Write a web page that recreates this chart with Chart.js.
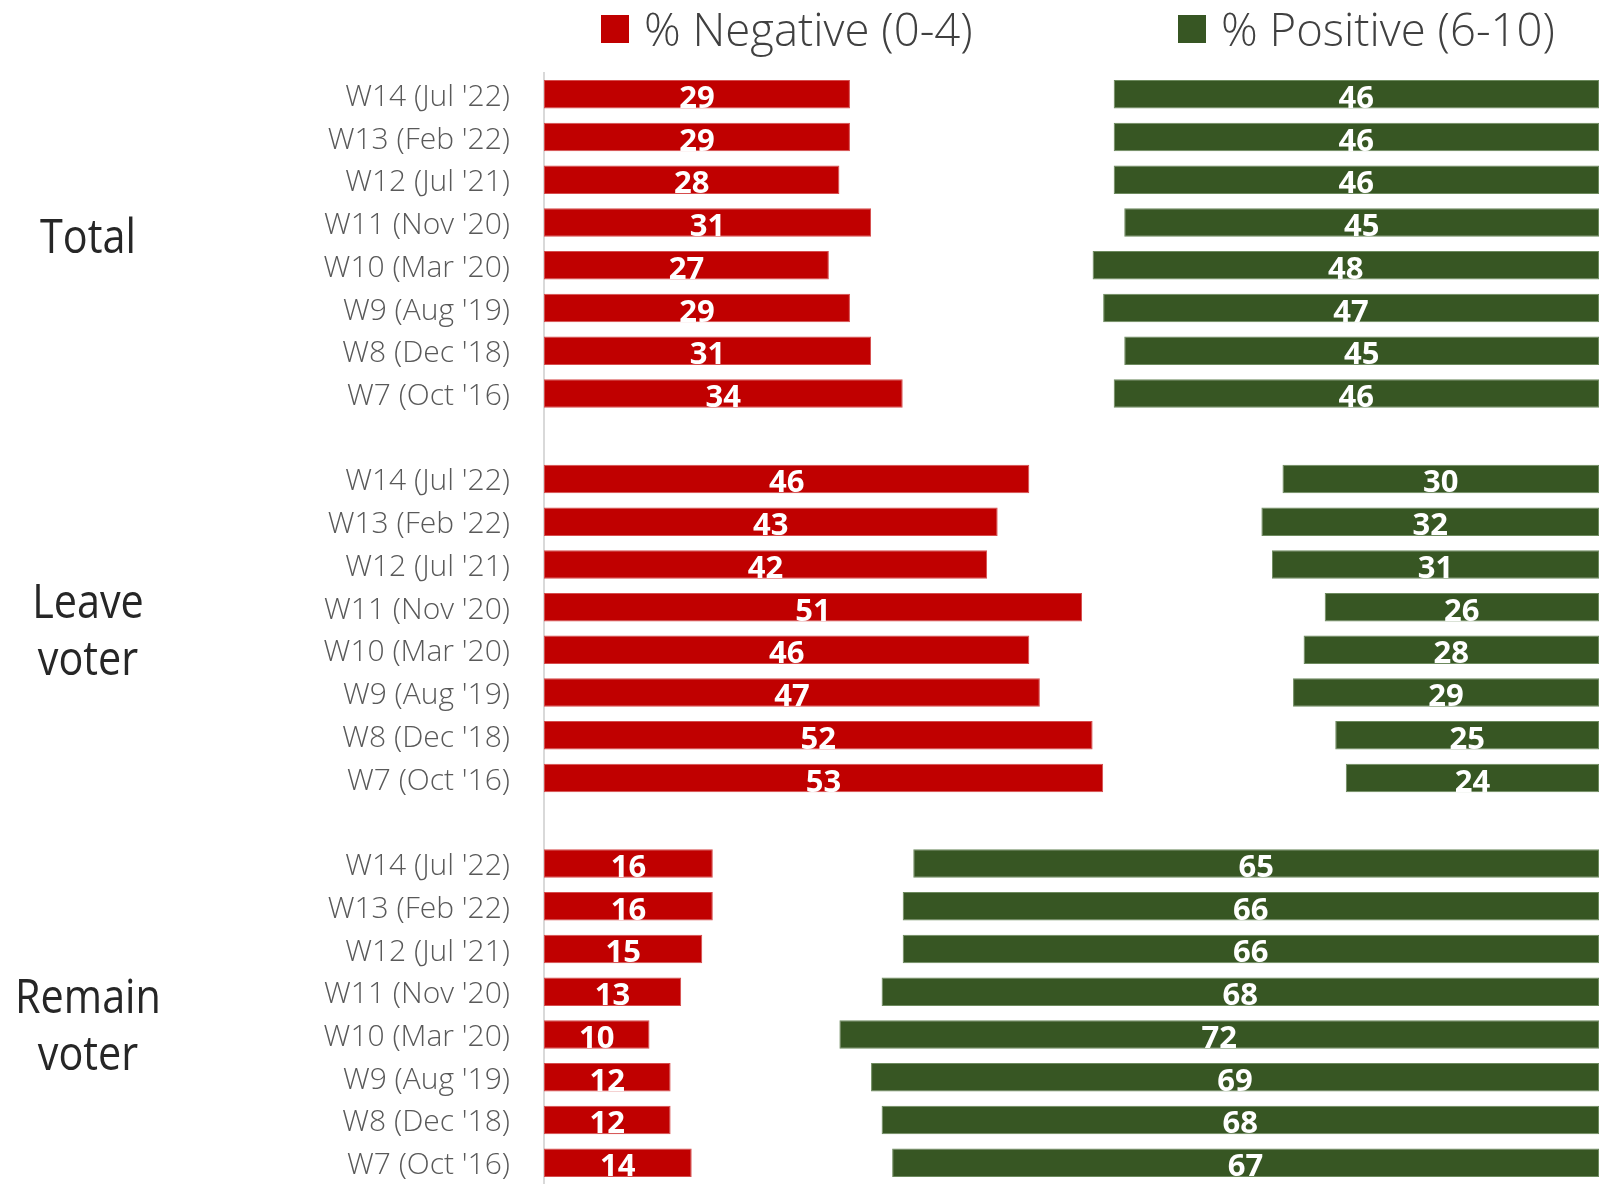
<!DOCTYPE html>
<html>
<head>
<meta charset="utf-8">
<script src="https://cdn.jsdelivr.net/npm/chart.js@4.4.0/dist/chart.umd.min.js"></script>
<style>
  html, body { margin: 0; padding: 0; background: #fff; }
  #wrap { position: relative; width: 1611px; height: 1184px; }
</style>
</head>
<body>
<div id="wrap"><canvas id="chart"></canvas></div>
<script>
// wave labels, top to bottom inside each group
const waves = ["W14 (Jul '22)", "W13 (Feb '22)", "W12 (Jul '21)", "W11 (Nov '20)",
               "W10 (Mar '20)", "W9 (Aug '19)", "W8 (Dec '18)", "W7 (Oct '16)"];
const groupNames = [["Total"], ["Leave", "voter"], ["Remain", "voter"]];

const totalNegative  = [29, 29, 28, 31, 27, 29, 31, 34];
const totalPositive  = [46, 46, 46, 45, 48, 47, 45, 46];
const leaveNegative  = [46, 43, 42, 51, 46, 47, 52, 53];
const leavePositive  = [30, 32, 31, 26, 28, 29, 25, 24];
const remainNegative = [16, 16, 15, 13, 10, 12, 12, 14];
const remainPositive = [65, 66, 66, 68, 72, 69, 68, 67];

const seriesNames = ["% Negative (0-4)", "% Positive (6-10)"];
const RED = "#C00000";
const GREEN = "#375623";

// one empty row between the groups
function withGaps(parts, gap) {
    const out = [];
    parts.forEach((p, i) => {
        if (i > 0) out.push(gap);
        out.push(...p);
    });
    return out;
}

const labels = withGaps([waves, waves, waves], "");
const negData = withGaps([totalNegative, leaveNegative, remainNegative], null);
const posData = withGaps([totalPositive, leavePositive, remainPositive], null);

const valueLabels = {
    id: "valueLabels",
    afterDatasetsDraw(chart) {
        const ctx = chart.ctx;
        ctx.save();
        ctx.font = "bold 31px 'Open Sans'";
        ctx.fillStyle = "#fff";
        ctx.textAlign = "center";
        ctx.textBaseline = "alphabetic";
        chart.data.datasets.forEach((ds, i) => {
            chart.getDatasetMeta(i).data.forEach((bar, j) => {
                const v = ds.data[j];
                if (v === null) return;
                const c = bar.getCenterPoint();
                ctx.fillText(String(v), c.x, c.y + 13.5);
            });
        });
        ctx.restore();
    }
};

const groupLabels = {
    id: "groupLabels",
    afterDraw(chart) {
        const ctx = chart.ctx;
        const y = chart.scales.y;
        const anchors = [3.72, 12.25, 21.5]; // row position of the first baseline
        ctx.save();
        ctx.font = "400 47px 'Open Sans'";
        ctx.fillStyle = "#262626";
        ctx.textAlign = "center";
        ctx.textBaseline = "alphabetic";
        groupNames.forEach((lines, g) => {
            const base = y.getPixelForValue(anchors[g]);
            lines.forEach((t, k) => {
                ctx.save();
                ctx.translate(88, base + k * 57);
                ctx.scale(0.88, 1);
                ctx.fillText(t, 0, 0);
                ctx.restore();
            });
        });
        ctx.restore();
    }
};

const topLegend = {
    id: "topLegend",
    afterDraw(chart) {
        const ctx = chart.ctx;
        const items = [{ x: 601, color: RED }, { x: 1178, color: GREEN }];
        ctx.save();
        ctx.font = "300 45.5px 'Open Sans'";
        ctx.textAlign = "left";
        ctx.textBaseline = "alphabetic";
        items.forEach((it, i) => {
            ctx.fillStyle = it.color;
            ctx.fillRect(it.x, 15, 28, 28);
            ctx.fillStyle = "#404040";
            ctx.fillText(seriesNames[i], it.x + 43, 46);
        });
        ctx.restore();
    }
};

new Chart(document.getElementById("chart"), {
    type: "bar",
    data: {
        labels: labels,
        datasets: [
            {
                label: seriesNames[0],
                data: negData,
                xAxisID: "x",
                backgroundColor: RED,
                borderColor: "#d64d4d",
                borderWidth: 1,
                borderSkipped: false,
                grouped: false,
                barPercentage: 0.667,
                categoryPercentage: 1
            },
            {
                label: seriesNames[1],
                data: posData,
                xAxisID: "x2",
                backgroundColor: GREEN,
                borderColor: "#6d8a5e",
                borderWidth: 1,
                borderSkipped: false,
                grouped: false,
                barPercentage: 0.667,
                categoryPercentage: 1
            }
        ]
    },
    options: {
        indexAxis: "y",
        responsive: true,
        maintainAspectRatio: false,
        animation: false,
        layout: { padding: { top: 73, right: 12, bottom: 0, left: 0 } },
        plugins: {
            legend: { display: false },
            tooltip: { enabled: false }
        },
        scales: {
            y: {
                grid: { display: false, drawTicks: false },
                border: { display: true, color: "#d9d9d9", width: 2 },
                ticks: {
                    autoSkip: false,
                    padding: 34,
                    labelOffset: 3,
                    color: "#595959",
                    font: { family: "'Open Sans'", size: 30, weight: 300 }
                },
                afterFit(scale) {
                    scale.width = 544;
                    scale.paddingTop = 0;
                    scale.paddingBottom = 0;
                }
            },
            x: { min: 0, max: 100, display: false },
            x2: { min: 0, max: 100, reverse: true, display: false }
        }
    },
    plugins: [valueLabels, groupLabels, topLegend]
});
</script>
</body>
</html>
